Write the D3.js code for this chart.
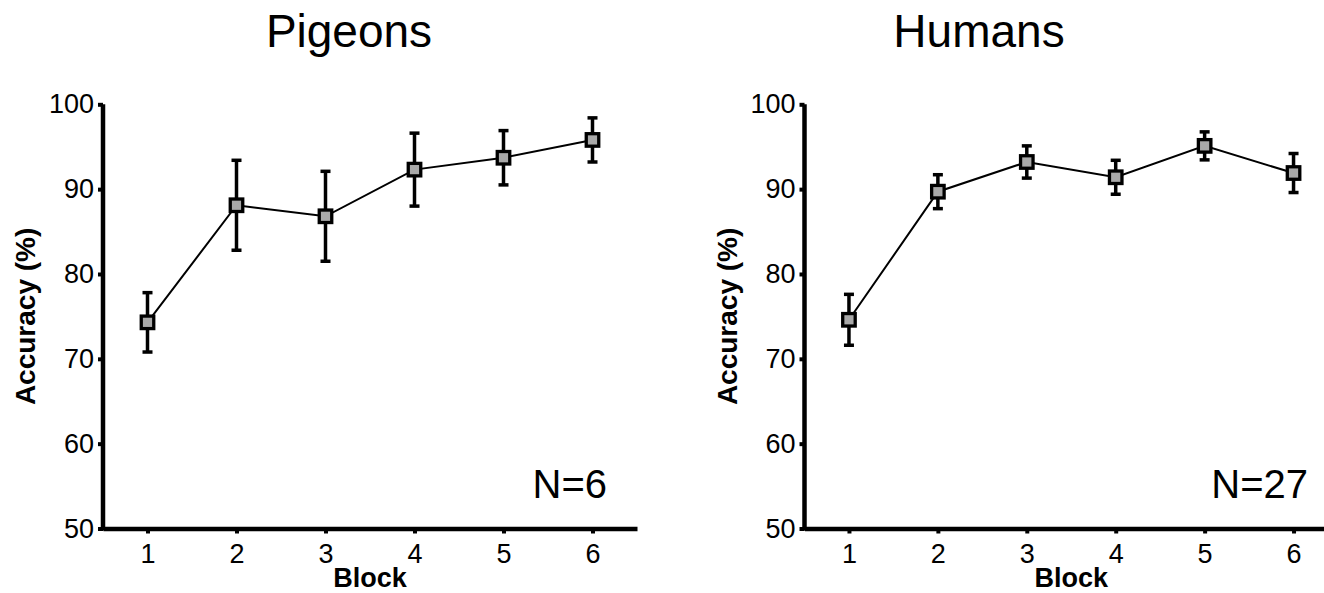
<!DOCTYPE html>
<html>
<head>
<meta charset="utf-8">
<script src="https://cdn.jsdelivr.net/npm/d3@7"></script>
<style>
  html, body { margin: 0; padding: 0; background: #fff; }
  svg { display: block; font-family: "Liberation Sans", Arial, Helvetica, sans-serif; }
</style>
</head>
<body>
<svg id="chart" width="1324" height="593"></svg>
<script>
// ---- Data ----
const blocks = [1, 2, 3, 4, 5, 6];
const yTicks = [50, 60, 70, 80, 90, 100];
const pigeonMeans = [74.3, 88.1, 86.8, 92.3, 93.7, 95.8];
const pigeonErr   = [3.5, 5.3, 5.3, 4.3, 3.2, 2.6];
const humanMeans  = [74.6, 89.7, 93.2, 91.4, 95.1, 91.9];
const humanErr    = [3.0, 2.0, 1.9, 2.0, 1.65, 2.3];
const panelTitles = ["Pigeons", "Humans"];
const panelN = ["N=6", "N=27"];
const xLabel = "Block";
const yLabel = "Accuracy (%)";

const panels = [
  { title: panelTitles[0], n: panelN[0], means: pigeonMeans, err: pigeonErr,
    x0: 103, x1: 637, titleX: 349, nX: 607 },
  { title: panelTitles[1], n: panelN[1], means: humanMeans, err: humanErr,
    x0: 804.5, x1: 1338, titleX: 979, nX: 1308 }
];

const svg = d3.select("#chart");
const yTop = 104.3, yBot = 528.5;
const y = d3.scaleLinear().domain([50, 100]).range([yBot, yTop]);

panels.forEach(p => {
  const g = svg.append("g");
  const x = d3.scaleLinear().domain([0.5, 6.5]).range([p.x0, p.x1]);

  // Title
  g.append("text")
    .attr("x", p.titleX).attr("y", 46.5)
    .attr("text-anchor", "middle")
    .attr("font-size", 46)
    .attr("fill", "#000")
    .text(p.title);

  // X axis
  const xAxis = d3.axisBottom(x).tickValues(blocks).tickFormat(d3.format("d"))
    .tickSizeInner(5).tickSizeOuter(0).tickPadding(10);
  const gx = g.append("g").attr("transform", `translate(0,${yBot})`).call(xAxis);
  gx.select(".domain").attr("stroke", "#000").attr("stroke-width", 4.5);
  gx.selectAll(".tick line").attr("stroke", "#000").attr("stroke-width", 4);
  gx.selectAll(".tick text").attr("font-size", 27).attr("fill", "#000")
    .attr("font-family", "'Liberation Sans', Arial, sans-serif");

  // Y axis
  const yAxis = d3.axisLeft(y).tickValues(yTicks).tickFormat(d3.format("d"))
    .tickSizeInner(5).tickSizeOuter(0).tickPadding(4);
  const gy = g.append("g").attr("transform", `translate(${p.x0},0)`).call(yAxis);
  gy.select(".domain").attr("stroke", "#000").attr("stroke-width", 4.5)
    .attr("d", `M0,${yTop}V${yBot + 2}`);
  gy.selectAll(".tick line").attr("stroke", "#000").attr("stroke-width", 4);
  gy.selectAll(".tick text").attr("font-size", 27).attr("fill", "#000")
    .attr("font-family", "'Liberation Sans', Arial, sans-serif");

  // Axis labels
  g.append("text")
    .attr("x", (x(1) + x(6)) / 2).attr("y", 587)
    .attr("text-anchor", "middle")
    .attr("font-size", 27).attr("font-weight", "bold")
    .text(xLabel);
  g.append("text")
    .attr("transform", `translate(${p.x0 - 68},${(yTop + yBot) / 2}) rotate(-90)`)
    .attr("text-anchor", "middle")
    .attr("font-size", 28).attr("font-weight", "bold")
    .text(yLabel);

  // N label
  g.append("text")
    .attr("x", p.nX).attr("y", 498)
    .attr("text-anchor", "end")
    .attr("font-size", 40)
    .text(p.n);

  const data = blocks.map((b, i) => ({ b, m: p.means[i], e: p.err[i] }));

  // Connecting line
  g.append("path")
    .datum(data)
    .attr("fill", "none").attr("stroke", "#000").attr("stroke-width", 2)
    .attr("d", d3.line().x(d => x(d.b)).y(d => y(d.m)));

  // Error bars
  const eb = g.append("g").selectAll("g").data(data).join("g");
  eb.append("line")
    .attr("x1", d => x(d.b)).attr("x2", d => x(d.b))
    .attr("y1", d => y(d.m - d.e)).attr("y2", d => y(d.m + d.e))
    .attr("stroke", "#000").attr("stroke-width", 3.5);
  eb.append("line")
    .attr("x1", d => x(d.b) - 5).attr("x2", d => x(d.b) + 5)
    .attr("y1", d => y(d.m + d.e)).attr("y2", d => y(d.m + d.e))
    .attr("stroke", "#000").attr("stroke-width", 3.5);
  eb.append("line")
    .attr("x1", d => x(d.b) - 5).attr("x2", d => x(d.b) + 5)
    .attr("y1", d => y(d.m - d.e)).attr("y2", d => y(d.m - d.e))
    .attr("stroke", "#000").attr("stroke-width", 3.5);

  // Markers
  const s = 12.5;
  g.append("g").selectAll("rect").data(data).join("rect")
    .attr("x", d => x(d.b) - s / 2).attr("y", d => y(d.m) - s / 2)
    .attr("width", s).attr("height", s)
    .attr("fill", "#a9a9a9").attr("stroke", "#000").attr("stroke-width", 3.3);
});
</script>
</body>
</html>
